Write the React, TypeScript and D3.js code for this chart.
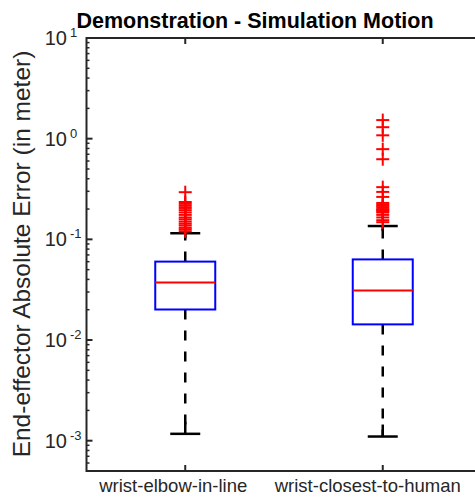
import React from "react";
import * as d3 from "d3";

const categories = ["wrist-elbow-in-line", "wrist-closest-to-human"];
const q1 = [0.0201, 0.0143];
const medians = [0.0373, 0.0311];
const q3 = [0.0601, 0.0632];
const whiskerLow = [0.00117, 0.0011];
const whiskerHigh = [0.115, 0.1356];
const outliersA = [0.294, 0.235, 0.225, 0.215, 0.205, 0.195, 0.185, 0.175, 0.165, 0.158, 0.15, 0.143, 0.137, 0.13, 0.125, 0.12];
const outliersB = [1.53, 1.3, 1.08, 0.787, 0.625, 0.33, 0.296, 0.264, 0.23, 0.222, 0.215, 0.208, 0.2, 0.195, 0.19, 0.185, 0.175, 0.165, 0.155, 0.148];
const outliers = [outliersA, outliersB];
const yTickExponents = [1, 0, -1, -2, -3];
const title = "Demonstration - Simulation Motion";
const yLabel = "End-effector Absolute Error (in meter)";

const W = 475;
const H = 497;
const L = 86.5, R = 481.5, T = 38, B = 471;
const FONT = "'Liberation Sans', Arial, Helvetica, sans-serif";
const AX = "#262626";
const labelShift = [-12, -15];

export default function App() {
  const x = d3.scaleLinear().domain([0.5, 2.5]).range([L, R]);
  const y = d3.scaleLog().domain([5e-4, 10]).range([B, T]);
  const boxHalf = 30;
  const capHalf = 15;
  const minor: number[] = [];
  for (let e = -4; e <= 0; e++) {
    for (let m = 2; m <= 9; m++) {
      const v = m * Math.pow(10, e);
      if (v >= 5e-4 && v <= 10) minor.push(v);
    }
  }
  const plusSize = 6.5;
  return (
    <svg width={W} height={H} style={{ position: "absolute", left: 0, top: 0, background: "#fff" }}>
      <text x={255} y={28} textAnchor="middle" fontFamily={FONT} fontWeight="bold" fontSize={21.5} fill="#000">{title}</text>
      {/* axes box */}
      <rect x={L} y={T} width={R - L} height={B - T} fill="none" stroke={AX} strokeWidth={2} />
      {/* y ticks */}
      {yTickExponents.map((e) => {
        const yy = y(Math.pow(10, e));
        return (
          <g key={"yt" + e}>
            <line x1={L} x2={L + 6} y1={yy} y2={yy} stroke={AX} strokeWidth={2} />
            <text x={67} y={yy + 7} textAnchor="end" fontFamily={FONT} fontSize={20} fill={AX}>10</text>
            <text x={70} y={yy - 1} textAnchor="start" fontFamily={FONT} fontSize={13} fill={AX}>{e < 0 ? "-" + Math.abs(e) : String(e)}</text>
          </g>
        );
      })}
      {minor.map((v, i) => (
        <line key={"mn" + i} x1={L} x2={L + 3} y1={y(v)} y2={y(v)} stroke={AX} strokeWidth={1.5} />
      ))}
      {/* x ticks */}
      {categories.map((c, i) => {
        const xx = x(i + 1);
        return (
          <g key={"xt" + i}>
            <line x1={xx} x2={xx} y1={B} y2={B - 6} stroke={AX} strokeWidth={2} />
            <line x1={xx} x2={xx} y1={T} y2={T + 6} stroke={AX} strokeWidth={2} />
            <text x={xx + labelShift[i]} y={492} textAnchor="middle" fontFamily={FONT} fontSize={18.5} fill={AX}>{c}</text>
          </g>
        );
      })}
      <text transform={`translate(30,254) rotate(-90)`} textAnchor="middle" fontFamily={FONT} fontSize={24.5} fill={AX}>{yLabel}</text>
      {/* boxes */}
      {categories.map((c, i) => {
        const xx = x(i + 1);
        return (
          <g key={"bx" + i}>
            <line x1={xx} x2={xx} y1={y(q3[i])} y2={y(whiskerHigh[i])} stroke="#000" strokeWidth={2.5} strokeDasharray="10,11" />
            <line x1={xx} x2={xx} y1={y(q1[i])} y2={y(whiskerLow[i])} stroke="#000" strokeWidth={2.5} strokeDasharray="10,11" />
            <line x1={xx - capHalf} x2={xx + capHalf} y1={y(whiskerHigh[i])} y2={y(whiskerHigh[i])} stroke="#000" strokeWidth={2.5} />
            <line x1={xx - capHalf} x2={xx + capHalf} y1={y(whiskerLow[i])} y2={y(whiskerLow[i])} stroke="#000" strokeWidth={2.5} />
            <line x1={xx} x2={xx} y1={y(whiskerLow[i])} y2={y(whiskerLow[i]) - 12} stroke="#000" strokeWidth={2.5} />
            <line x1={xx} x2={xx} y1={y(whiskerHigh[i])} y2={y(whiskerHigh[i]) + 5} stroke="#000" strokeWidth={2.5} />
            <rect x={xx - boxHalf} y={y(q3[i])} width={2 * boxHalf} height={y(q1[i]) - y(q3[i])} fill="none" stroke="#0000ff" strokeWidth={2} />
            <line x1={xx - boxHalf} x2={xx + boxHalf} y1={y(medians[i])} y2={y(medians[i])} stroke="#ff0000" strokeWidth={2} />
            {outliers[i].map((v, k) => (
              <g key={"o" + k}>
                <line x1={xx - plusSize} x2={xx + plusSize} y1={y(v)} y2={y(v)} stroke="#ff0000" strokeWidth={2} />
                <line x1={xx} x2={xx} y1={y(v) - plusSize} y2={y(v) + plusSize} stroke="#ff0000" strokeWidth={2} />
              </g>
            ))}
          </g>
        );
      })}
    </svg>
  );
}
